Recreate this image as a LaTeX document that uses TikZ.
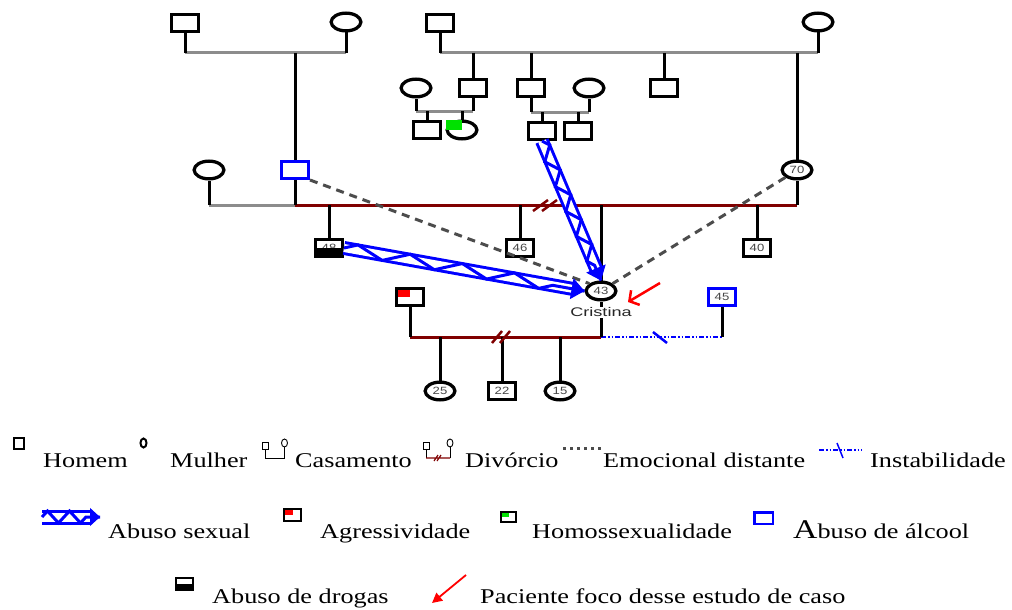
\documentclass[tikz,border=0pt]{standalone}
\usepackage{fontspec}
\setmainfont{Liberation Serif}
\newfontfamily\legfont[FakeStretch=1.25]{Liberation Serif}
\newfontfamily\numfont[FakeStretch=1.25]{Liberation Sans}
\newfontfamily\nomefont[FakeStretch=1.45]{Liberation Sans}
\usetikzlibrary{shapes.geometric,arrows.meta,decorations.pathmorphing,calc}
\definecolor{vinho}{RGB}{128,0,0}
\definecolor{cinza}{RGB}{140,140,140}
\definecolor{cinzaesc}{RGB}{70,70,70}
\definecolor{verde}{RGB}{0,225,0}

\begin{document}
\begin{tikzpicture}[x=1pt,y=-1pt]

    \tikzset{
      homem/.style={
        draw,
        fill=white,
        line width=3.3pt,
        inner sep=0pt,
        minimum width=26.7pt,
        minimum height=16.7pt,
        text=cinzaesc,
        font={\numfont\fontsize{10.5}{12}\selectfont},
      },
      mulher/.style={homem, ellipse, minimum width=29.7pt, minimum height=17.7pt},
      linha/.style={line width=3pt},
      casal/.style={line width=3pt, draw=cinza},
      divorcio/.style={line width=3pt, draw=vinho},
      corte/.style={line width=2.5pt, draw=vinho},
      instab/.style={line width=2.5pt, draw=blue, dash pattern=on 5pt off 2pt on 1.5pt off 2pt on 1.5pt off 2pt},
      distante/.style={line width=3pt, draw=black!70, dash pattern=on 8pt off 6pt},
      abuso/.style={draw=blue, line width=3pt, double=white, double distance=8pt, shorten >=12pt},
      zigue/.style={draw=blue, line width=3pt, decorate,
        decoration={zigzag, segment length=#1, amplitude=5.5pt, post length=12pt}},
      ponta/.style={draw=blue, line width=1pt, -{Triangle[length=13pt,width=21pt]}},
      seta/.style={draw=red, line width=2.5pt, -{Straight Barb[length=7pt,width=17pt]}},
      legtxt/.style={anchor=base west, inner sep=0pt, font={\legfont\fontsize{21}{24}\selectfont}},
      legq/.style={draw, line width=2.2pt, inner sep=0pt},
    }
    \useasboundingbox (0,0) rectangle (1012,610);

    % avos
    \node[homem] (avo1) at (185,23) {};
    \node[mulher] (avo2) at (346,22) {};
    \node[homem] (avo3) at (440,23) {};
    \node[mulher] (avo4) at (818,22) {};
    % tios e primos
    \node[mulher] (tia1) at (416,88) {};
    \node[homem] (tio1) at (473,88) {};
    \node[homem] (tio2) at (531,88) {};
    \node[mulher] (tia2) at (589,88) {};
    \node[homem] (tio3) at (664,88) {};
    \node[homem] (pr1) at (427,130) {};
    \node[mulher] (pr2) at (462,130) {};
    \node[homem] (pr3) at (542,131) {};
    \node[homem] (pr4) at (578,131) {};
    % pais
    \node[mulher] (madr) at (209,170) {};
    \node[homem, draw=blue] (pai) at (295,170) {};
    \node[mulher] (mae) at (797,170) {70};
    % irmaos
    \node[homem] (ir48) at (329,248) {48};
    \node[homem] (ir46) at (520,248) {46};
    \node[mulher] (cris) at (601,291) {43};
    \node[homem] (ir40) at (757,248) {40};
    \node[anchor=north, fill=white, inner sep=1pt, font={\nomefont\fontsize{12.5}{13}\selectfont}, text=black!85] (nome) at (601,306.5) {Cristina};
    % companheiros e filhos
    \node[homem, path picture={\fill[red] (path picture bounding box.north west) rectangle (path picture bounding box.center);}] (mar) at (410,297) {};
    \node[homem, draw=blue] (comp) at (722,297) {45};
    \node[mulher] (f25) at (440,391) {25};
    \node[homem] (f22) at (502,391) {22};
    \node[mulher] (f15) at (560,391) {15};

    \fill[verde] (pr2.west |- pr2.north) rectangle (pr2.center);
    \fill (ir48.west) rectangle (ir48.south east);

    \coordinate (c1) at (185,53);
    \coordinate (c2) at (346,53);
    \coordinate (c3) at (440,53);
    \coordinate (c4) at (818,53);
    \coordinate (t1) at (416,111);
    \coordinate (t2) at (473,111);
    \coordinate (t3) at (531,112);
    \coordinate (t4) at (589,112);
    \coordinate (m1) at (209,205);
    \coordinate (m2) at (295,205);
    \coordinate (m3) at (797,205);
    \coordinate (b1) at (410,337);
    \coordinate (b2) at (601,337);
    \coordinate (b3) at (722,337);

    \draw[casal] (c1) -- (c2);
    \draw[casal] (c3) -- (c4);
    \draw[casal] (t1) -- (t2);
    \draw[casal] (t3) -- (t4);
    \draw[casal] (m1) -- (m2);
    \draw[divorcio] (m2) -- (m3);
    \draw[divorcio] (b1) -- (b2);
    \draw[instab] (b2) -- (b3);

    \draw[linha] (avo1) -- (c1);
    \draw[linha] (avo2) -- (c2);
    \draw[linha] (avo3) -- (c3);
    \draw[linha] (avo4) -- (c4);
    \draw[linha] (pai |- c1) -- (pai);
    \draw[linha] (tio1 |- c3) -- (tio1);
    \draw[linha] (tio2 |- c3) -- (tio2);
    \draw[linha] (tio3 |- c3) -- (tio3);
    \draw[linha] (mae |- c3) -- (mae);
    \draw[linha] (tia1) -- (t1);
    \draw[linha] (tio1) -- (t2);
    \draw[linha] (tio2) -- (t3);
    \draw[linha] (tia2) -- (t4);
    \draw[linha] (pr1 |- t1) -- (pr1);
    \draw[linha] (pr2 |- t1) -- (pr2);
    \draw[linha] (pr3 |- t3) -- (pr3);
    \draw[linha] (pr4 |- t3) -- (pr4);
    \draw[linha] (madr) -- (m1);
    \draw[linha] (pai) -- (m2);
    \draw[linha] (mae) -- (m3);
    \draw[linha] (ir48 |- m2) -- (ir48);
    \draw[linha] (ir46 |- m2) -- (ir46);
    \draw[linha] (cris |- m2) -- (cris);
    \draw[linha] (ir40 |- m2) -- (ir40);
    \draw[linha] (cris) -- (nome);
    \draw[linha] (nome) -- (b2);
    \draw[linha] (mar) -- (b1);
    \draw[linha] (comp) -- (b3);
    \draw[linha] (f25 |- b1) -- (f25);
    \draw[linha] (f22 |- b1) -- (f22);
    \draw[linha] (f15 |- b1) -- (f15);

    % divorcio e instabilidade
    \draw[corte] (533,211) -- (548,200) (542,211) -- (557,200);
    \draw[corte] (492,343) -- (502,331) (500,343) -- (510,331);
    \draw[line width=2.5pt, blue] (653,332) -- (667,343);

    % emocional distante
    \draw[distante] (pai.south east) -- (cris.north west);
    \draw[distante] (ir48.east) -- (cris.west);
    \draw[distante] (mae.south west) -- (cris.north east);

    % abuso sexual
    \foreach \de/\para/\passo in {pr3.south/cris.north/27pt, ir48.east/cris.west/53pt} {
      \draw[abuso] (\de) -- (\para);
      \draw[zigue=\passo] (\de) -- (\para);
      \draw[ponta] ($(\para)!14pt!(\de)$) -- (\para);
    }

    \coordinate (sa) at (660,283);
    \coordinate (sb) at (628,302);
    \draw[seta] (sa) -- (sb);

    % legenda
    \node[legq, minimum width=10pt, minimum height=11pt] (lh) at (19,443.5) {};
    \node[legtxt] at (43,467) {Homem};
    \node[legq, ellipse, line width=2pt, minimum width=6pt, minimum height=9pt] (lm) at (143.5,443) {};
    \node[legtxt] at (170,467) {Mulher};
    \node[draw, line width=0.9pt, inner sep=0pt, minimum width=6pt, minimum height=7pt] (lcq) at (265,446) {};
    \node[draw, ellipse, line width=0.9pt, inner sep=0pt, minimum width=6pt, minimum height=8pt] (lcc) at (284.5,443) {};
    \draw[line width=0.9pt] (lcq.south) -- ++(0,8.5) -| (lcc.south);
    \node[legtxt] at (295,467) {Casamento};
    \node[draw, line width=0.9pt, inner sep=0pt, minimum width=6pt, minimum height=7pt] (ldq) at (426,446) {};
    \node[draw, ellipse, line width=0.9pt, inner sep=0pt, minimum width=6pt, minimum height=8pt] (ldc) at (450,443) {};
    \draw[line width=0.9pt] (ldq.south) -- ++(0,8.5);
    \draw[line width=0.9pt] (ldc.south) -- ++(0,11);
    \draw[line width=1.2pt, vinho] (426,458) -- (450,458) (434,461) -- (438,455) (437,461) -- (441,455);
    \node[legtxt] at (465,467) {Divórcio};
    \draw[distante, dash pattern=on 3pt off 4pt] (563,448) -- (601,448);
    \node[legtxt] at (603,467) {Emocional distante};
    \draw[instab] (819,450) -- (862,450);
    \draw[line width=1.5pt, blue] (837,443) -- (843,458);
    \node[legtxt] at (870,467) {Instabilidade};

    \draw[abuso, line width=3pt, double distance=9pt, shorten >=10pt] (42,517) -- (100,517);
    \draw[zigue=22pt, decoration={amplitude=6pt, post length=10pt}] (42,517) -- (100,517);
    \draw[ponta, -{Triangle[length=10pt,width=18pt]}] (88,517) -- (100,517);
    \node[legtxt] at (108,538) {Abuso sexual};
    \node[legq, minimum width=17pt, minimum height=12pt, path picture={\fill[red] (path picture bounding box.north west) rectangle (path picture bounding box.center);}] (lag) at (292.5,515) {};
    \node[legtxt] at (320,538) {Agressividade};
    \node[legq, minimum width=15pt, minimum height=10pt, path picture={\fill[verde] (path picture bounding box.north west) rectangle (path picture bounding box.center);}] (lho) at (508.5,517) {};
    \node[legtxt] at (532,538) {Homossexualidade};
    \node[legq, draw=blue, line width=2.5pt, minimum width=18.5pt, minimum height=11.5pt] (lal) at (763.5,518) {};
    \node[legtxt] at (793,538) {{\fontsize{27}{30}\selectfont A}buso de álcool};

    \node[legq, minimum width=17pt, minimum height=12pt, path picture={\fill (path picture bounding box.west) rectangle (path picture bounding box.south east);}] (ldr) at (184.5,584) {};
    \node[legtxt] at (212,603) {Abuso de drogas};
    \coordinate (la) at (466,575);
    \coordinate (lb) at (432,603);
    \draw[draw=red, line width=1.8pt, -{Triangle[length=10pt,width=10pt]}] (la) -- (lb);
    \node[legtxt] at (480,603) {Paciente foco desse estudo de caso};

\end{tikzpicture}
\end{document}
